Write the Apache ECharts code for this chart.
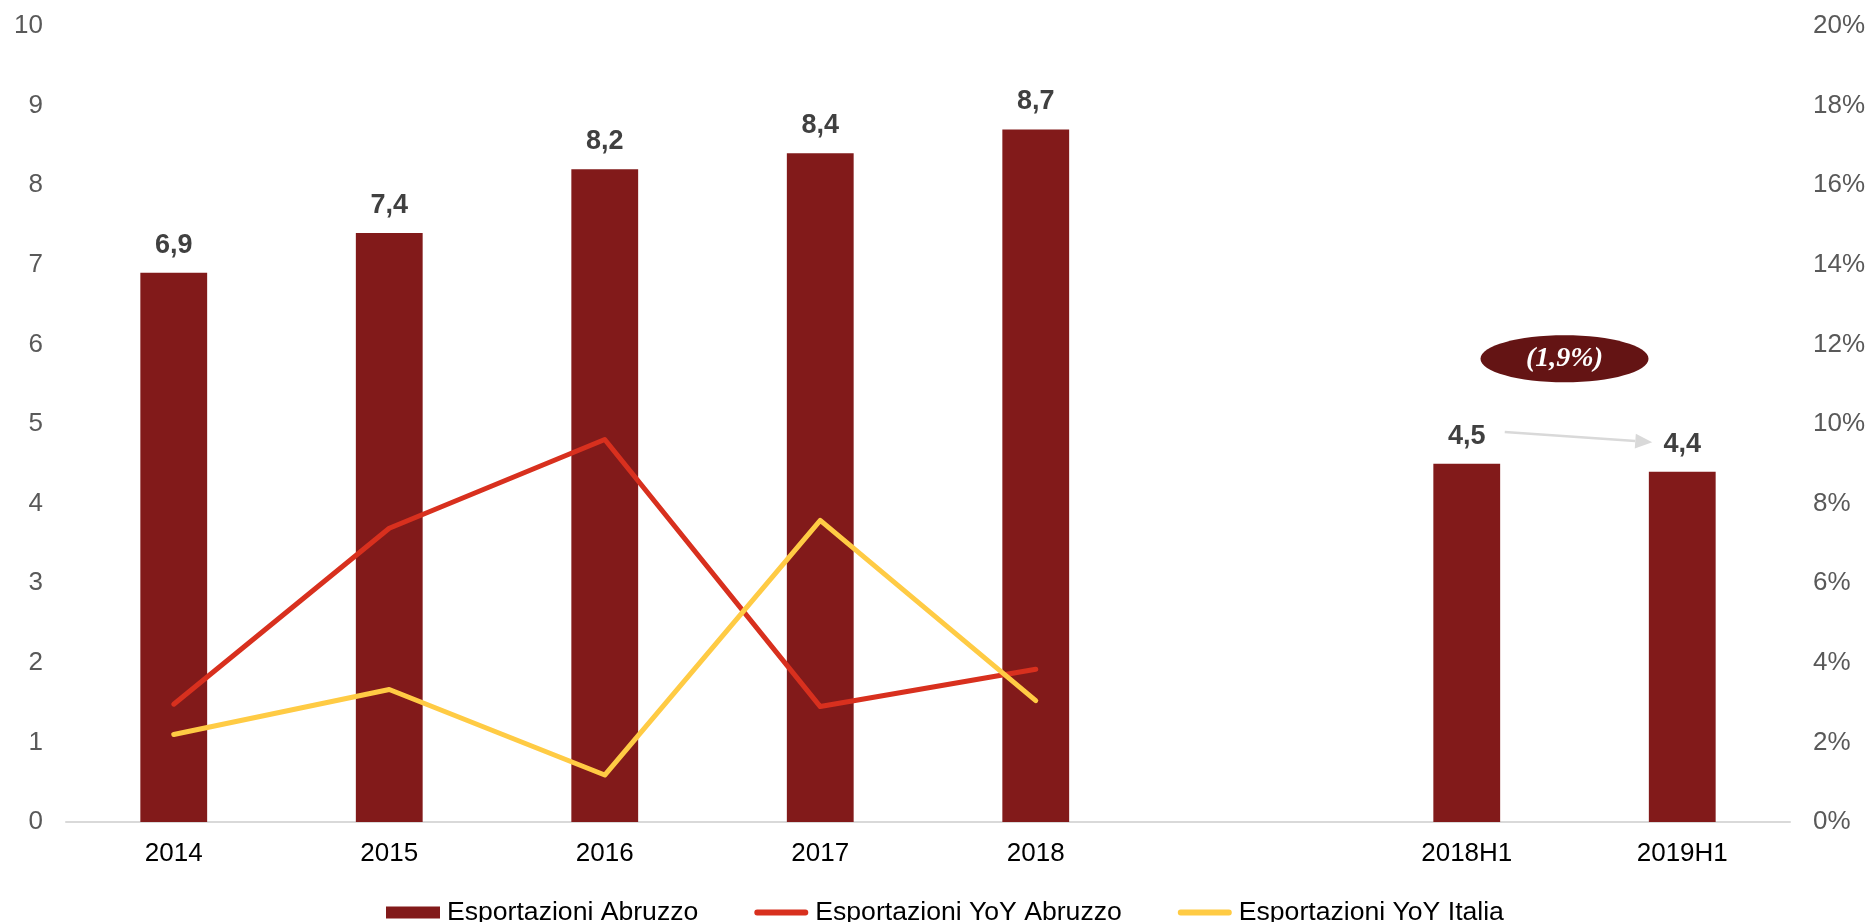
<!DOCTYPE html>
<html>
<head>
<meta charset="utf-8">
<script src="https://cdn.jsdelivr.net/npm/echarts@6/dist/echarts.min.js"></script>
<style>
  html, body { margin: 0; padding: 0; background: #ffffff; }
  #chart { width: 1871px; height: 922px; }
</style>
</head>
<body>
<div id="chart"></div>
<script>
// Categories (an empty slot separates yearly totals from half-year figures)
const categories = ['2014', '2015', '2016', '2017', '2018', '', '2018H1', '2019H1'];
// Exports of Abruzzo (bn €)
const exportAbruzzo = [6.9, 7.4, 8.2, 8.4, 8.7, null, 4.5, 4.4];
// Year-on-year growth (%)
const yoyAbruzzo = [2.96, 7.38, 9.61, 2.90, 3.84];
const yoyItalia = [2.20, 3.33, 1.18, 7.58, 3.05];
// Axis ranges
const leftAxisMax = 10, leftAxisStep = 1;
const rightAxisMax = 20, rightAxisStep = 2;
// Half-year change callout
const halfYearChangeText = '(1,9%)';

const seriesNames = ['Esportazioni Abruzzo', 'Esportazioni YoY Abruzzo', 'Esportazioni YoY Italia'];
const colors = { bar: '#821a1a', red: '#d8301e', yellow: '#ffcb44', badge: '#641414', arrow: '#d9d9d9' };
const FONT = '"Liberation Sans", Arial, sans-serif';
// Thin rounded stroke used as legend key for the line series
const LINE_KEY = 'path://M3,0h50a3,3 0 0 1 0,6h-50a3,3 0 0 1 0,-6z';

const chart = echarts.init(document.getElementById('chart'), null, { renderer: 'canvas' });

chart.setOption({
  animation: false,
  backgroundColor: '#ffffff',
  grid: { left: 66, right: 81, top: 26, bottom: 100, outerBoundsMode: 'none' },
  legend: {
    top: 894,
    left: 381,
    itemWidth: 54,
    itemHeight: 12,
    itemGap: 56,
    symbolKeepAspect: true,
    textStyle: { fontFamily: FONT, fontSize: 26.6, color: '#000000', padding: [0, 0, 0, 2] },
    data: [
      { name: seriesNames[0], icon: 'rect' },
      { name: seriesNames[1], icon: LINE_KEY, itemStyle: { color: colors.red } },
      { name: seriesNames[2], icon: LINE_KEY, itemStyle: { color: colors.yellow } }
    ]
  },
  xAxis: {
    type: 'category',
    data: categories,
    axisLine: { lineStyle: { color: '#d9d9d9', width: 2 } },
    axisTick: { show: false },
    axisLabel: { fontFamily: FONT, fontSize: 26, color: '#000000', margin: 19 }
  },
  yAxis: [
    {
      type: 'value', min: 0, max: leftAxisMax, interval: leftAxisStep,
      axisLine: { show: false }, axisTick: { show: false }, splitLine: { show: false },
      axisLabel: { fontFamily: FONT, fontSize: 26, color: '#595959', margin: 23 }
    },
    {
      type: 'value', min: 0, max: rightAxisMax, interval: rightAxisStep,
      axisLine: { show: false }, axisTick: { show: false }, splitLine: { show: false },
      axisLabel: { fontFamily: FONT, fontSize: 26, color: '#595959', margin: 23, formatter: '{value}%' }
    }
  ],
  series: [
    {
      name: seriesNames[0],
      type: 'bar',
      data: exportAbruzzo,
      barWidth: '31%',
      itemStyle: { color: colors.bar },
      label: {
        show: true, position: 'top', distance: 14,
        fontFamily: FONT, fontSize: 27, fontWeight: 'bold', color: '#404040',
        formatter: p => p.value == null ? '' : p.value.toFixed(1).replace('.', ',')
      }
    },
    {
      name: seriesNames[1],
      type: 'line',
      yAxisIndex: 1,
      data: yoyAbruzzo,
      symbol: 'none',
      itemStyle: { color: colors.red },
      lineStyle: { color: colors.red, width: 5, cap: 'round', join: 'round' }
    },
    {
      name: seriesNames[2],
      type: 'line',
      yAxisIndex: 1,
      data: yoyItalia,
      symbol: 'none',
      itemStyle: { color: colors.yellow },
      lineStyle: { color: colors.yellow, width: 5, cap: 'round', join: 'round' }
    }
  ]
});

// Callout over the half-year bars: badge with the change and a connecting arrow
function drawCallout() {
  const h1a = chart.convertToPixel({ gridIndex: 0 }, [categories[6], 0]);
  const h1b = chart.convertToPixel({ gridIndex: 0 }, [categories[7], 0]);
  const badgeY = chart.convertToPixel({ yAxisIndex: 0 }, 5.82);
  const startY = chart.convertToPixel({ yAxisIndex: 0 }, 4.9);
  const endY = chart.convertToPixel({ yAxisIndex: 0 }, 4.77);
  const cx = (h1a[0] + h1b[0]) / 2 - 10;

  const x1 = h1a[0] + 38, y1 = startY;
  const x2 = h1b[0] - 30, y2 = endY;
  const dx = x2 - x1, dy = y2 - y1, len = Math.hypot(dx, dy);
  const ux = dx / len, uy = dy / len;
  const headLen = 17, headHalf = 7.5;
  const bx = x2 - ux * headLen, by = y2 - uy * headLen;

  chart.setOption({
    graphic: [
      {
        type: 'line', z: 20,
        shape: { x1: x1, y1: y1, x2: bx, y2: by },
        style: { stroke: colors.arrow, lineWidth: 2.5 }
      },
      {
        type: 'polygon', z: 20,
        shape: { points: [[x2, y2], [bx - uy * headHalf, by + ux * headHalf], [bx + uy * headHalf, by - ux * headHalf]] },
        style: { fill: colors.arrow }
      },
      {
        type: 'ellipse', z: 20,
        shape: { cx: cx, cy: badgeY, rx: 84, ry: 23.5 },
        style: { fill: colors.badge }
      },
      {
        type: 'text', z: 21,
        x: cx, y: badgeY,
        style: {
          text: halfYearChangeText,
          fill: '#ffffff',
          font: 'italic bold 28px "Liberation Serif", "DejaVu Serif", serif',
          align: 'center', verticalAlign: 'middle'
        }
      }
    ]
  });
}
drawCallout();
</script>
</body>
</html>
